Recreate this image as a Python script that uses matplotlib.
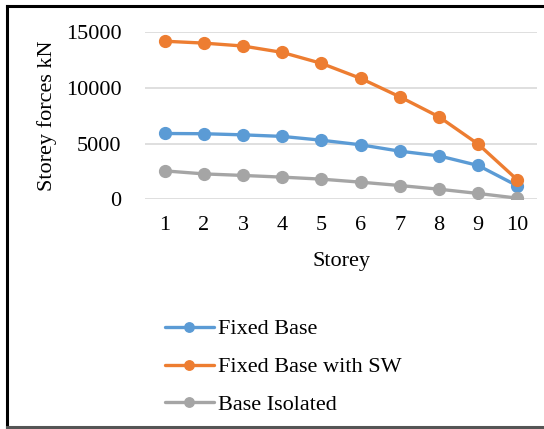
import matplotlib
matplotlib.use("Agg")
import matplotlib.pyplot as plt
from matplotlib.lines import Line2D

storeys = [1, 2, 3, 4, 5, 6, 7, 8, 9, 10]
fixed_base = [5900, 5880, 5780, 5640, 5300, 4890, 4320, 3900, 3040, 1220]
fixed_base_sw = [14150, 13980, 13720, 13150, 12170, 10830, 9180, 7390, 4950, 1750]
base_isolated = [2560, 2290, 2150, 2000, 1820, 1550, 1250, 920, 540, 120]
yticks = [0, 5000, 10000, 15000]

W, H = 544, 429
fig = plt.figure(figsize=(W / 100, H / 100), dpi=100)
plt.rcParams['font.family'] = ['Liberation Serif', 'DejaVu Serif']

ax = fig.add_axes([145 / W, 1 - 199.5 / H, (537 - 145) / W, (199.5 - 31.7) / H])
series = [
    ("Fixed Base", fixed_base, "#5B9BD5"),
    ("Fixed Base with SW", fixed_base_sw, "#ED7D31"),
    ("Base Isolated", base_isolated, "#A5A5A5"),
]
handles = []
for name, vals, col in series:
    ln, = ax.plot(storeys, vals, color=col, lw=2.4, marker='o', ms=8.5,
                  solid_capstyle='round', label=name, zorder=3)
    handles.append(ln)

ax.set_xlim(0.5, 10.5)
ax.set_ylim(0, 15000)
ax.set_yticks(yticks)
ax.set_xticks(storeys)
ax.set_xticklabels([str(s) for s in storeys])
ax.grid(axis='y', color='#D9D9D9', lw=1.2, zorder=0)
for s in ax.spines.values():
    s.set_visible(False)
ax.tick_params(axis='both', length=0, labelsize=16, colors='#000000')
ax.tick_params(axis='y', pad=17)
ax.tick_params(axis='x', pad=12)
ax.set_xlabel("Storey", fontsize=16, labelpad=12)
ax.set_ylabel("Storey forces kN", fontsize=16, labelpad=6)

leg = fig.legend(handles=handles, loc='upper left',
                 bbox_to_anchor=(156 / W, 1 - 310 / H), frameon=False,
                 fontsize=16, handlelength=2.2, handletextpad=0.2,
                 labelspacing=0.78, borderaxespad=0, markerscale=0.8)

# outer frame
fig.add_artist(Line2D([7 / W, 1.0], [1 - 6 / H, 1 - 6 / H], color='black', lw=2.2,
                      transform=fig.transFigure))
fig.add_artist(Line2D([7 / W, 7 / W], [1 - 6 / H, 1 - 427 / H], color='black', lw=2.2,
                      transform=fig.transFigure))
fig.add_artist(Line2D([7 / W, 1.0], [1 - 427 / H, 1 - 427 / H], color='#555555', lw=2.2,
                      transform=fig.transFigure))

fig.savefig("out.png", dpi=100)
